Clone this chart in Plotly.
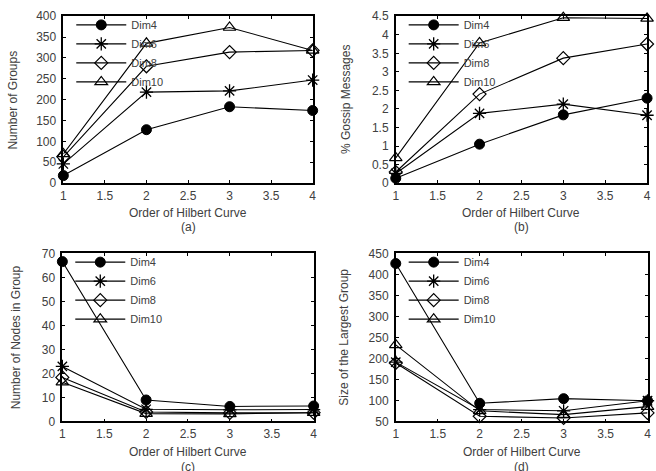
import plotly.graph_objects as go

orders = [1, 2, 3, 4]
series_names = ["Dim4", "Dim6", "Dim8", "Dim10"]

# (a) Number of Groups
groups_dim4 = [18, 128, 183, 174]
groups_dim6 = [46, 218, 221, 247]
groups_dim8 = [63, 280, 314, 318]
groups_dim10 = [70, 335, 373, 318]

# (b) % Gossip Messages
gossip_dim4 = [0.13, 1.05, 1.84, 2.29]
gossip_dim6 = [0.26, 1.88, 2.13, 1.83]
gossip_dim8 = [0.30, 2.40, 3.37, 3.75]
gossip_dim10 = [0.68, 3.78, 4.46, 4.44]

# (c) Number of Nodes in Group
nodes_dim4 = [66.6, 8.9, 6.2, 6.4]
nodes_dim6 = [22.9, 5.0, 4.8, 4.9]
nodes_dim8 = [18.3, 3.9, 3.5, 3.6]
nodes_dim10 = [16.3, 3.2, 3.1, 3.6]

# (d) Size of the Largest Group
largest_dim4 = [426, 93, 104, 99]
largest_dim6 = [191, 78, 75, 99]
largest_dim8 = [189, 62, 58, 70]
largest_dim10 = [232, 75, 66, 85]

panels = [
    dict(data=[groups_dim4, groups_dim6, groups_dim8, groups_dim10],
         yrange=[0, 400], dtick=50, ytitle="Number of Groups", tag="(a)"),
    dict(data=[gossip_dim4, gossip_dim6, gossip_dim8, gossip_dim10],
         yrange=[0, 4.5], dtick=0.5, ytitle="% Gossip Messages", tag="(b)"),
    dict(data=[nodes_dim4, nodes_dim6, nodes_dim8, nodes_dim10],
         yrange=[0, 70], dtick=10, ytitle="Number of Nodes in Group", tag="(c)"),
    dict(data=[largest_dim4, largest_dim6, largest_dim8, largest_dim10],
         yrange=[50, 450], dtick=50, ytitle="Size of the Largest Group", tag="(d)"),
]

W, H = 656, 471
# plot-area pixel boxes: (left, right, top, bottom)
boxes = [(61, 313, 9.5, 181.5), (397, 651, 9.5, 181.5),
         (60, 314, 254, 427), (397, 651.5, 254, 427)]
ytitle_x = [10, 346, 14, 345]
xtitle_y = [212.5, 212.5, 459, 459]
tag_y = [227, 227, 474, 474]

markers = [
    dict(symbol="circle", size=10, color="black", line=dict(color="black", width=1)),
    dict(symbol="asterisk-open", size=11, color="black", line=dict(color="black", width=1.3)),
    dict(symbol="diamond-open", size=10, color="black", line=dict(color="black", width=1.2)),
    dict(symbol="triangle-up-open", size=11, color="black", line=dict(color="black", width=1.2)),
]

FONT = "Liberation Sans, Arial, sans-serif"
TXT = "#404040"
FS = 12

fig = go.Figure()
annotations = []
layout = {}
for i, p in enumerate(panels):
    n = i + 1
    xa = "x" if n == 1 else f"x{n}"
    ya = "y" if n == 1 else f"y{n}"
    lg = "legend" if n == 1 else f"legend{n}"
    for j, name in enumerate(series_names):
        fig.add_trace(go.Scatter(
            x=orders, y=p["data"][j], name=name, mode="lines+markers",
            line=dict(color="black", width=1.1), marker=markers[j],
            xaxis=xa, yaxis=ya, legend=lg, cliponaxis=False))
    l, r, t, b = boxes[i]
    axcommon = dict(showline=True, linecolor="black", linewidth=1.5, mirror="ticks",
                    ticks="inside", ticklen=3, tickcolor="black", tickwidth=1,
                    showgrid=False, zeroline=False,
                    tickfont=dict(family=FONT, size=FS, color=TXT))
    layout["xaxis" if n == 1 else f"xaxis{n}"] = dict(
        domain=[l / W, r / W], range=[1, 4], dtick=0.5, tick0=1,
        anchor=ya, ticklabelstandoff=1, **axcommon)
    layout["yaxis" if n == 1 else f"yaxis{n}"] = dict(
        domain=[1 - b / H, 1 - t / H], range=p["yrange"], dtick=p["dtick"],
        anchor=xa, ticklabelstandoff=3, **axcommon)
    layout[lg] = dict(x=(l + 8) / W, y=1 - (t - 6) / H, xanchor="left", yanchor="top",
                      bgcolor="rgba(0,0,0,0)", borderwidth=0, itemwidth=50,
                      tracegroupgap=0,
                      font=dict(family=FONT, size=11, color=TXT))
    cx = (l + r) / 2 / W
    annotations.append(dict(text="Order of Hilbert Curve", x=cx, y=1 - xtitle_y[i] / H,
                            xref="paper", yref="paper", showarrow=False,
                            xanchor="center", yanchor="middle",
                            font=dict(family=FONT, size=FS, color=TXT)))
    annotations.append(dict(text=p["tag"], x=cx, y=1 - tag_y[i] / H,
                            xref="paper", yref="paper", showarrow=False,
                            xanchor="center", yanchor="middle",
                            font=dict(family=FONT, size=FS, color=TXT)))
    annotations.append(dict(text=p["ytitle"], x=ytitle_x[i] / W, y=1 - (t + b) / 2 / H,
                            xref="paper", yref="paper", showarrow=False, textangle=-90,
                            xanchor="center", yanchor="middle",
                            font=dict(family=FONT, size=FS, color=TXT)))

fig.update_layout(width=W, height=H, margin=dict(l=0, r=0, t=0, b=0),
                  paper_bgcolor="white", plot_bgcolor="white",
                  showlegend=True, annotations=annotations, **layout)
fig.write_html("out.html")
